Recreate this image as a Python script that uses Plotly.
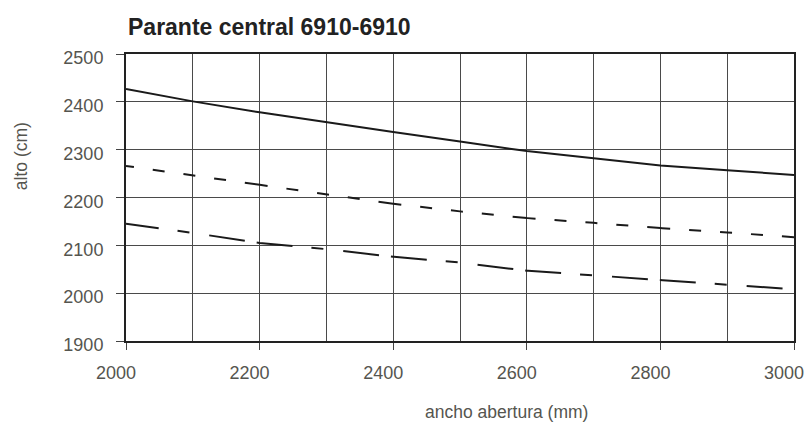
import plotly.graph_objects as go

# ---- data ----
ancho = [2000, 2100, 2200, 2300, 2400, 2500, 2600, 2700, 2800, 2900, 3000]
alto_solid = [2427, 2401, 2378, 2357, 2337, 2317, 2297, 2282, 2267, 2257, 2247]
alto_short_dash = [2266, 2246, 2227, 2206, 2187, 2171, 2157, 2147, 2136, 2127, 2117]
alto_long_dash = [2145, 2126, 2105, 2092, 2076, 2064, 2047, 2037, 2027, 2017, 2008]

x_ticks = [2000, 2200, 2400, 2600, 2800, 3000]
y_ticks = [1900, 2000, 2100, 2200, 2300, 2400, 2500]

title_text = "Parante central 6910-6910"
x_title = "ancho abertura (mm)"
y_title = "alto (cm)"

FONT = "Liberation Sans, Arial, sans-serif"
TXT = "#55554f"
LINE = "#1a1a1a"
GRID = "#4a4a4a"

W, H = 805, 424
PL, PT = 126, 54           # plot area left / top
PR, PB = 794.5, 340.7      # plot area right / bottom

fig = go.Figure()
fig.add_trace(go.Scatter(x=ancho, y=alto_solid, mode="lines",
                         line=dict(color=LINE, width=2), showlegend=False))
fig.add_trace(go.Scatter(x=ancho, y=alto_short_dash, mode="lines",
                         line=dict(color=LINE, width=2,
                                   dash="8px,19px,12px,19px,12px,19px,12px,19px,15px,0px"),
                         showlegend=False))
fig.add_trace(go.Scatter(x=ancho, y=alto_long_dash, mode="lines",
                         line=dict(color=LINE, width=2,
                                   dash="33px,19px,12px,20px,36px,12px,3px,0px"),
                         showlegend=False))

pw, ph = PR - PL, PB - PT

fig.update_layout(
    width=W, height=H,
    margin=dict(l=PL, r=W - PR, t=PT, b=H - PB, autoexpand=False),
    paper_bgcolor="white", plot_bgcolor="white",
    font=dict(family=FONT, size=18, color=TXT),
    hovermode=False,
    title=dict(text="<b>" + title_text + "</b>", xref="paper", x=0.003, xanchor="left",
               yref="container", y=1 - 27.2 / H, yanchor="middle",
               font=dict(family=FONT, size=23, color="#222222")),
    xaxis=dict(range=[2000, 3000], tickmode="array", tickvals=x_ticks,
               ticks="outside", ticklen=7, tickcolor="#444", tickwidth=1,
               showgrid=True, gridcolor=GRID, gridwidth=1,
               minor=dict(dtick=100, showgrid=True, gridcolor=GRID, gridwidth=1, ticks=""),
               showline=True, linecolor="#222", linewidth=2, mirror=True,
               zeroline=False, ticklabelstandoff=7, ticklabelshift=-10,
               ticklabeloverflow="allow",
               tickfont=dict(family=FONT, size=18, color=TXT)),
    yaxis=dict(range=[1900, 2500], tickmode="array", tickvals=y_ticks,
               ticks="outside", ticklen=8, tickcolor="#444", tickwidth=1,
               showgrid=True, gridcolor=GRID, gridwidth=1,
               showline=True, linecolor="#222", linewidth=2, mirror=True,
               zeroline=False, ticklabelstandoff=9, ticklabelshift=4,
               ticklabeloverflow="allow",
               tickfont=dict(family=FONT, size=18, color=TXT)),
    annotations=[
        dict(text=x_title, xref="paper", yref="paper", x=(506.7 - PL) / pw,
             y=(PB - 412) / ph, xanchor="center", yanchor="middle",
             showarrow=False, font=dict(family=FONT, size=17.5, color=TXT)),
        dict(text=y_title, xref="paper", yref="paper", x=(21 - PL) / pw,
             y=(PB - 156) / ph, xanchor="center", yanchor="middle",
             textangle=-90, showarrow=False, font=dict(family=FONT, size=17.5, color=TXT)),
    ],
)

fig.write_html("out.html", config={"displayModeBar": False},
               post_script="document.body.style.margin='0';document.body.style.overflow='hidden';")
